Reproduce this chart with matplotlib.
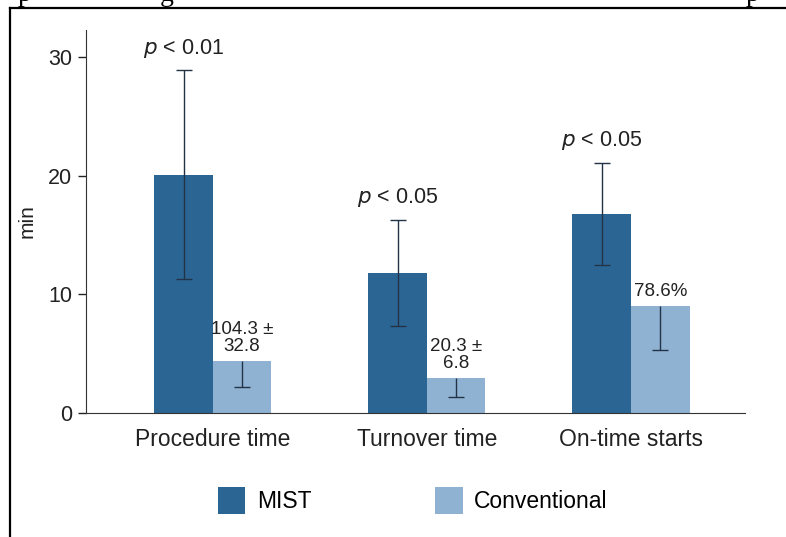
import matplotlib
matplotlib.use("Agg")
import matplotlib.pyplot as plt
import numpy as np

# data
categories = ["Procedure time", "Turnover time", "On-time starts"]
mist = [20.1, 11.8, 16.8]
mist_err = [8.8, 4.5, 4.3]
conv = [4.4, 2.95, 9.0]
conv_err = [2.2, 1.6, 3.7]
p_labels = ["0.01", "0.05", "0.05"]
conv_labels = ["104.3 \u00b1\n32.8", "20.3 \u00b1\n6.8", "78.6%"]

dark = "#2b6593"
light = "#8fb2d2"
ecol = "#233347"

plt.rcParams["font.family"] = ["Liberation Sans", "DejaVu Sans"]

fig = plt.figure(figsize=(7.86, 5.37), dpi=100)
ax = fig.add_axes([0.1094, 0.2309, 0.8386, 0.7131])

x = np.array([0, 1.024, 2.0])
w = 0.28
ax.bar(x - w / 2, mist, w, color=dark, label="MIST")
ax.bar(x + w / 2, conv, w, color=light, label="Conventional")
ax.errorbar(x - w / 2, mist, yerr=mist_err, fmt="none", ecolor=ecol,
            elinewidth=1, capsize=6, capthick=1)
eb = ax.errorbar(x + w / 2, conv, yerr=[conv_err, [0] * len(conv)], fmt="none",
                 ecolor=ecol, elinewidth=1, capsize=6, capthick=1)
eb[1][1].set_visible(False)  # only the lower cap shows

for i in range(len(categories)):
    top = mist[i] + mist_err[i]
    ax.text(x[i] - w / 2, top + 0.9, "$\\it{p}$ < " + p_labels[i],
            ha="center", va="bottom", fontsize=15.5, color="#222222")
    ax.text(x[i] + w / 2, conv[i] + 0.5, conv_labels[i], ha="center",
            va="bottom", fontsize=13.5, color="#222222", linespacing=1.0)

ax.set_xlim(-0.607, 2.546)
ax.set_ylim(0, 32.3)
ax.set_yticks([0, 10, 20, 30])
ax.set_xticks(x)
ax.set_xticklabels(categories, fontsize=16.5, color="#222222")
ax.tick_params(axis="x", length=0, pad=11)
ax.tick_params(axis="y", length=6, width=1, labelsize=15.5, colors="#222222", pad=4)
ax.set_ylabel("min", fontsize=15, color="#222222", labelpad=8)
for s in ["top", "right"]:
    ax.spines[s].set_visible(False)
ax.spines["left"].set_color("#333333")
ax.spines["bottom"].set_color("#333333")

leg = fig.legend(loc="center", bbox_to_anchor=(0.525, 0.068), ncol=2,
                 frameon=False, fontsize=16.5, handlelength=1.2, handleheight=1.5,
                 columnspacing=5.4, handletextpad=0.5)

# outer frame of the clipped page
fig.add_artist(plt.Line2D([0.0127, 1.0], [0.985, 0.985], color="black",
                          lw=1.6, transform=fig.transFigure))
fig.add_artist(plt.Line2D([0.0127, 0.0127], [0.0, 0.985], color="black",
                          lw=1.6, transform=fig.transFigure))
for xp, ch in [(0.022, "p"), (0.203, "g"), (0.948, "p")]:
    fig.text(xp, 0.998, ch, family="Liberation Serif", fontsize=20,
             va="baseline", ha="left")

plt.savefig("out.png", dpi=100)
